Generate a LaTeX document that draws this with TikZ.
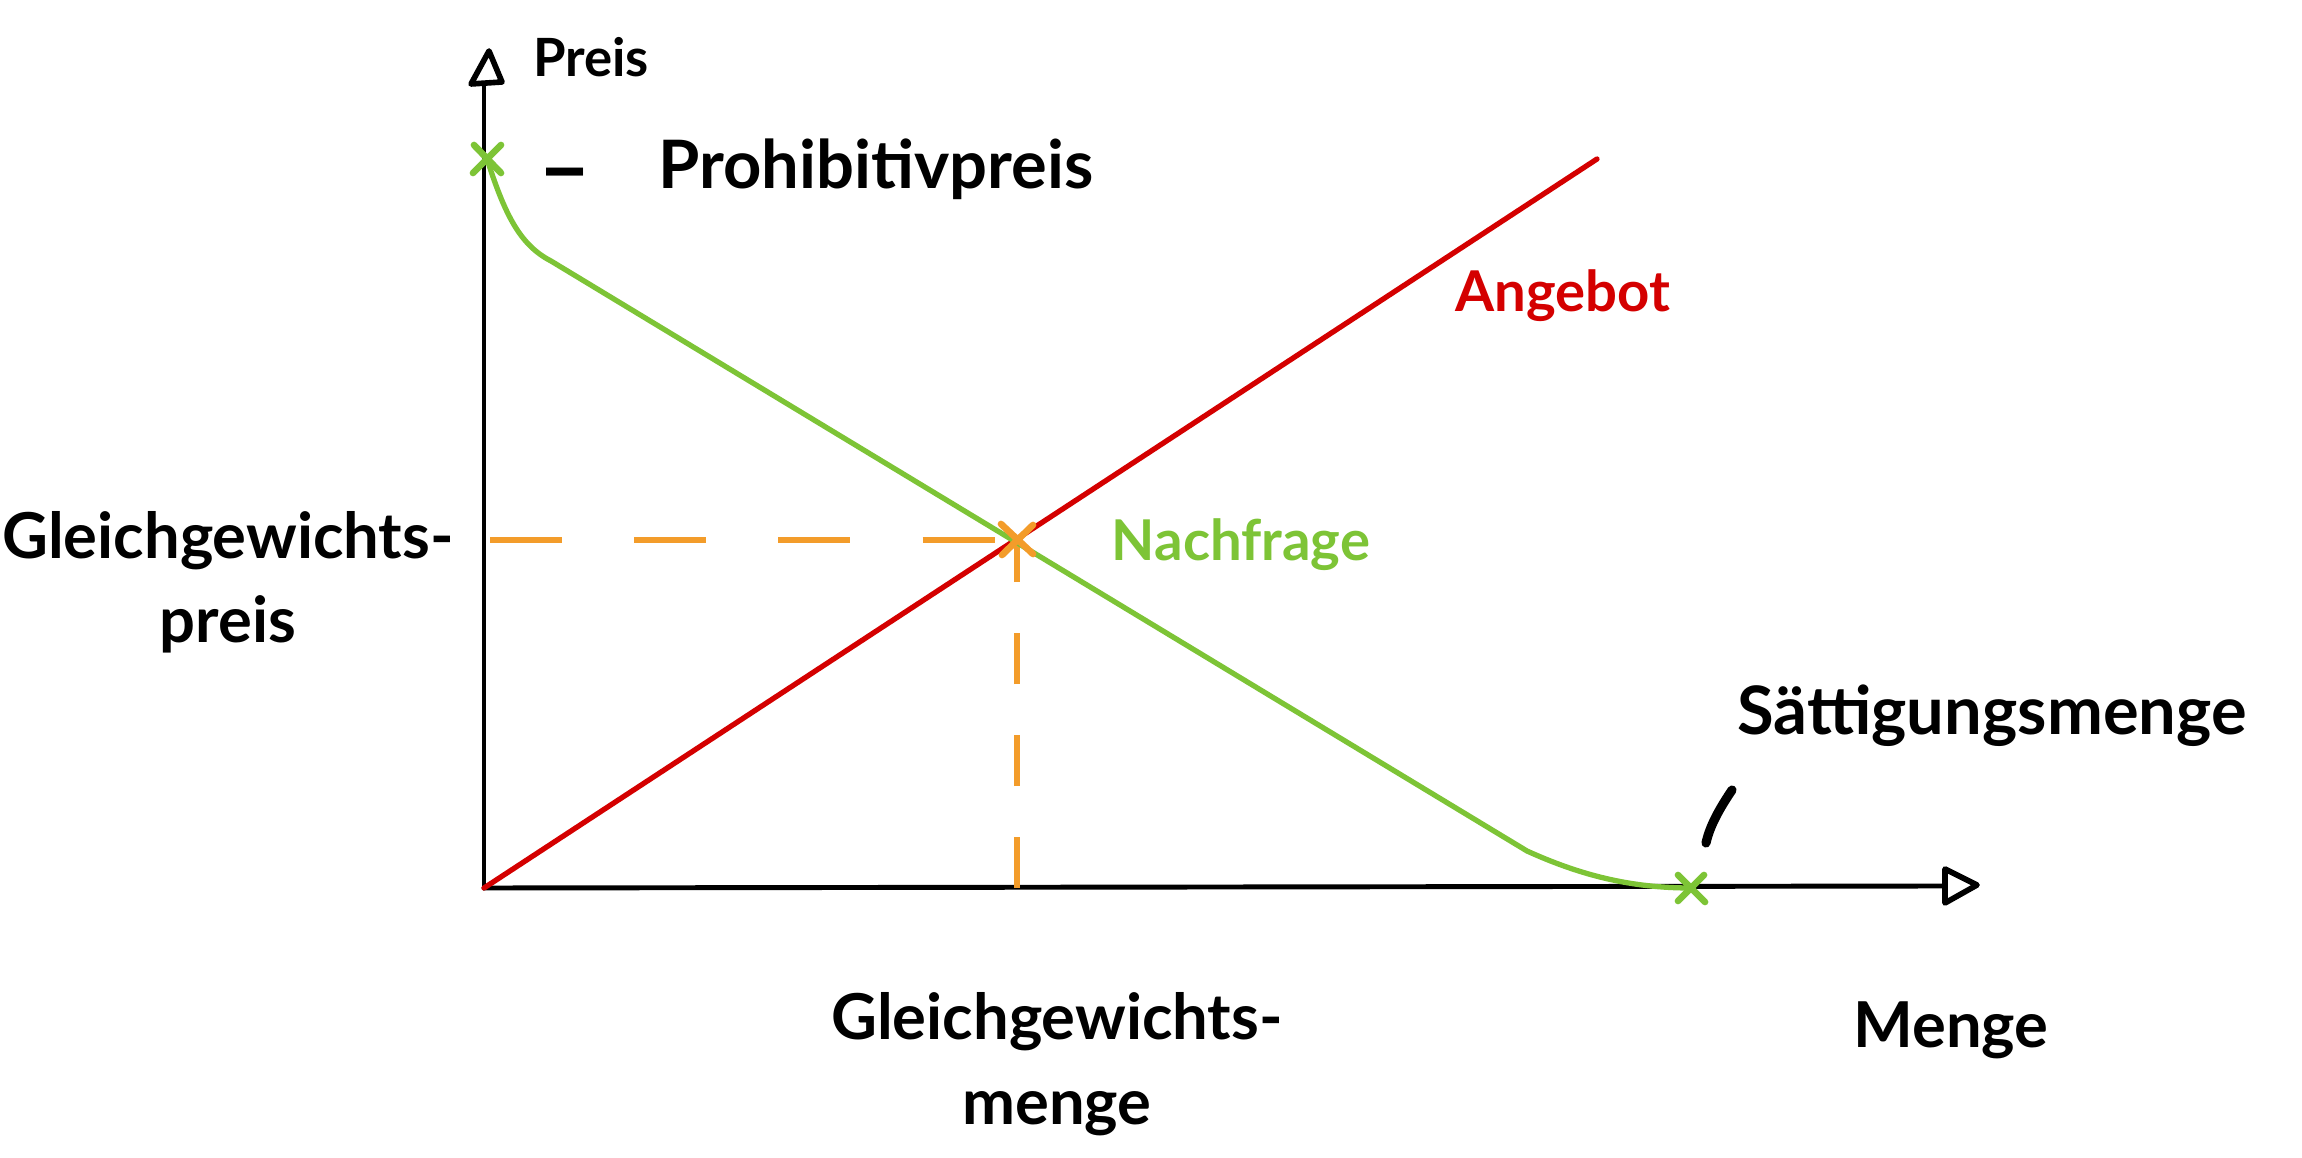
\documentclass[tikz,border=0pt]{standalone}
\usepackage{fontspec}
\setmainfont{Lato}
\definecolor{dgreen}{HTML}{7DC436}
\definecolor{sred}{HTML}{D40000}
\definecolor{eqorange}{HTML}{F39C2A}
\begin{document}
\begin{tikzpicture}[x=0.01cm,y=-0.01cm,
  axis/.style={black,line width=1.4pt,line cap=round,line join=round},
  tip/.style={black,line width=1.6pt,line join=round},
  demand/.style={dgreen,line width=1.5pt,line cap=round},
  supply/.style={sred,line width=1.5pt,line cap=round},
  guide/.style={eqorange,line width=1.6pt,dash pattern=on 20.5pt off 20.5pt},
  vguide/.style={eqorange,line width=1.6pt,dash pattern=on 14.5pt off 14.5pt},
  cross/.style={line width=1.9pt,line cap=round},
  fs/.style={font=\fontsize{#1}{24}\selectfont\bfseries}]
\useasboundingbox (0,0) rectangle (2302,1158);
\fill[white] (0,0) rectangle (2302,1158);

% coordinates
\coordinate (O) at (484,888);
\coordinate (ytop) at (484,84);
\coordinate (xend) at (1945,886);
\coordinate (PP) at (487,159);
\coordinate (D1) at (551,261);
\coordinate (D2) at (1527,851);
\coordinate (SM) at (1691,888);
\coordinate (S2) at (1597,159);
\coordinate (EQ) at (1017,540);
\coordinate (EQy) at (490,540);
\coordinate (EQx) at (1017,888);

% axes
\draw[axis] (O) -- (ytop);
\draw[axis] (O) -- (xend);
\draw[tip] (489,51) -- (471,84) -- (502,82) -- cycle;
\draw[tip] (1977,885) -- (1945,869) -- (1945,903) -- cycle;

% guides
\draw[guide] (EQy) -- (EQ);
\draw[vguide] (EQx) -- (EQ);

% supply
\draw[supply] (O) -- (S2);

% demand
\draw[demand] (PP) .. controls (505,215) and (520,245) .. (D1) -- (D2)
  .. controls (1580,875) and (1630,888) .. (SM);

% markers
\draw[cross,dgreen] (474,145) -- (501,173) (501,145) -- (473,173);
\draw[cross,eqorange] (1001,524) -- (1033,554) (1033,525) -- (1002,555);
\draw[cross,dgreen] (1678,875) -- (1705,902) (1704,875) -- (1678,901);

% labels
\node[fs=15] (preis) at (591,57) {Preis};
\node[fs=26] (dash) at (565,184) {--};
\node[fs=19,anchor=west] (prohib) at (646,169) {Prohibitivpreis};
\node[fs=16,text=sred] (angebot) at (1563,296) {Angebot};
\node[fs=16,text=dgreen] (nachfrage) at (1241,545) {Nachfrage};
\node[fs=18,align=center] (ggp) at (228,582) {Gleichgewichts-\\preis};
\node[fs=18,align=center] (ggm) at (1057,1064) {Gleichgewichts-\\menge};
\node[fs=18] (menge) at (1951,1030) {Menge};
\node[fs=19] (saett) at (1992,716) {Sättigungsmenge};
\coordinate (slA) at (1732,790);
\coordinate (slB) at (1706,843);
\draw[black,line width=2.6pt,line cap=round] (slA) .. controls (1720,808) and (1710,825) .. (slB);
\end{tikzpicture}
\end{document}
